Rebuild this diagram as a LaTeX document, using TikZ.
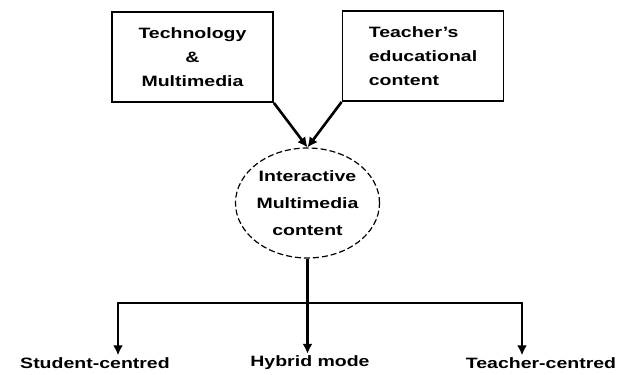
\documentclass[tikz,border=0pt]{standalone}
\usepackage{fontspec}
\setmainfont{Liberation Sans}[FakeStretch=1.3]
\usepackage{tikz}
\usetikzlibrary{arrows.meta,positioning,calc,shapes.geometric}

\begin{document}
\begin{tikzpicture} [
  x=1pt, y=-1pt,
  box node/.style= {draw,line width=1.8pt,minimum width=161pt,minimum height=90pt,inner sep=0pt,font=\fontsize{15}{24}\selectfont\bfseries},
  oval node/.style= {ellipse,draw,dash pattern=on 6pt off 3pt,line width=1.2pt,minimum width=141pt,minimum height=110pt,inner sep=0pt,align=center,font=\fontsize{15}{27}\selectfont\bfseries},
  mode node/.style= {font=\fontsize{15}{18}\selectfont\bfseries,inner sep=2pt},
  link/.style={line width=2.6pt,-{Latex[length=10pt,width=10pt]}}
]
\useasboundingbox (0,0) rectangle (622,375);
\node (B1) [box node,align=center] at (192.5,57) {Technology\\ \&\\ Multimedia};
\node (B2) [box node,align=left] at (423,56) {Teacher's\\ educational\\ content};
\node (I) [oval node] at (307.5,203) {Interactive\\ Multimedia\\ content};
\node (S) [mode node] at (95,363) {Student-centred};
\node (H) [mode node] at (310,363) {Hybrid mode};
\node (T) [mode node] at (541,363) {Teacher-centred};
\coordinate (J) at (307.5,303);
\coordinate (L) at (118,303);
\coordinate (R) at (522,303);
\draw [link] (B1.south east) -- (I.north);
\draw [link] (B2.south west) -- (I.north);
\draw [link] (I.south) -- (I.south |- H.north);
\draw [link] (J) -- (L) -- (L |- S.north);
\draw [link] (J) -- (R) -- (R |- T.north);
\end{tikzpicture}
\end{document}
